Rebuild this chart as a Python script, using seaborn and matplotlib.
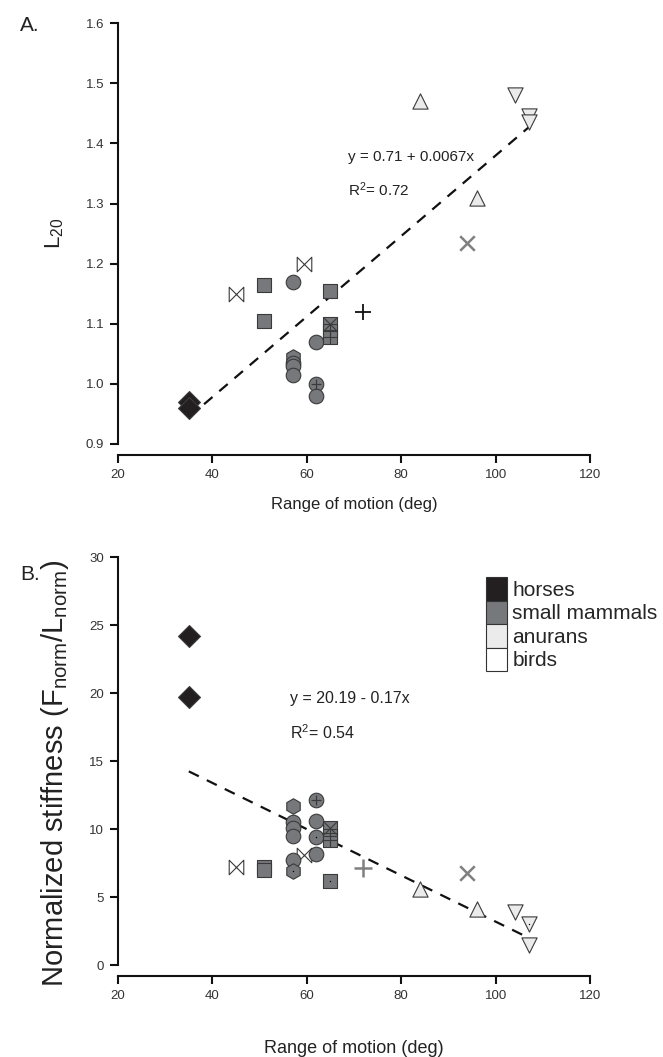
import numpy as np
import pandas as pd
import matplotlib
matplotlib.use("Agg")
import matplotlib.pyplot as plt
from matplotlib.path import Path
from matplotlib.patches import Patch
import seaborn as sns

sns.set_style("ticks")
plt.rcParams['font.family'] = ['Liberation Sans', 'DejaVu Sans']
plt.rcParams['mathtext.default'] = 'regular'

# colours of the four groups
HORSE = '#231f20'
MAMMAL = '#77787b'
ANURAN = '#ebebeb'
BIRD = '#ffffff'
EDGE = '#3a3a3a'

# panel A: range of motion vs L20
rom_a = [35, 35, 45, 59.5, 51, 51, 57, 57, 57, 57, 57, 62, 62, 62,
         65, 65, 65, 65, 72, 94, 84, 96, 104, 107, 107]
l20 = [0.97, 0.96, 1.15, 1.20, 1.165, 1.105, 1.17, 1.045, 1.035, 1.03, 1.015,
       1.07, 1.00, 0.98, 1.155, 1.10, 1.088, 1.078, 1.12, 1.235, 1.47, 1.31,
       1.48, 1.445, 1.435]
kind_a = ['horse', 'horse', 'bowtie', 'bowtie', 'square', 'square', 'circle',
          'hexagon', 'circle', 'circle', 'circle', 'circle', 'circle_plus',
          'circle', 'square', 'square_x', 'square_grid', 'square_grid',
          'plus', 'cross', 'tri_up', 'tri_up', 'tri_down', 'tri_down', 'tri_down']

# panel B: range of motion vs normalized stiffness
rom_b = [35, 35, 45, 59.5, 51, 51, 57, 57, 57, 57, 57, 57, 62, 62, 62, 62,
         65, 65, 65, 65, 72, 94, 84, 96, 104, 107, 107]
stiff = [24.2, 19.7, 7.2, 8.1, 7.2, 7.0, 11.7, 10.5, 10.1, 9.5, 7.7, 6.9,
         12.1, 10.6, 9.4, 8.2, 10.1, 9.5, 9.2, 6.2, 7.1, 6.8, 5.6, 4.1,
         3.9, 3.0, 1.5]
kind_b = ['horse', 'horse', 'bowtie', 'bowtie', 'square', 'square', 'hexagon',
          'circle', 'circle', 'circle', 'circle', 'hexagon_dot', 'circle_plus',
          'circle', 'circle_dot', 'circle', 'square_x', 'square_grid',
          'square_grid', 'square_dot', 'plus_gray', 'cross', 'tri_up', 'tri_up',
          'tri_down', 'tri_down_dot', 'tri_down']

# regression lines (intercept, slope) and R^2
fit_a = (0.71, 0.0067, 0.72)
fit_b = (20.19, -0.17, 0.54)

legend_labels = ['horses', 'small mammals', 'anurans', 'birds']
legend_colors = [HORSE, MAMMAL, ANURAN, BIRD]

bowtie = Path([(-1, 1), (-1, -1), (1, 1), (1, -1), (-1, 1)],
              [Path.MOVETO, Path.LINETO, Path.LINETO, Path.LINETO, Path.CLOSEPOLY])

base = {
    'horse': dict(marker='D', color=HORSE, s=125),
    'bowtie': dict(marker=bowtie, color='white', s=110),
    'square': dict(marker='s', color=MAMMAL, s=105),
    'circle': dict(marker='o', color=MAMMAL, s=110),
    'hexagon': dict(marker='h', color=MAMMAL, s=125),
    'tri_up': dict(marker='^', color=ANURAN, s=120),
    'tri_down': dict(marker='v', color=ANURAN, s=120),
}
overlay = {
    'x': dict(marker='x', color=EDGE, s=80, linewidth=0.8),
    'grid': dict(marker='+', color=EDGE, s=100, linewidth=0.8),
    'plus': dict(marker='+', color=EDGE, s=45, linewidth=0.9),
    'dot': dict(marker='.', color='black', s=4, linewidth=0),
}


def draw_points(ax, xs, ys, kinds):
    df = pd.DataFrame({'x': xs, 'y': ys, 'kind': kinds})
    for i, row in df.iterrows():
        k = row['kind']
        sub = df.loc[[i]]
        if k == 'plus':
            sns.scatterplot(data=sub, x='x', y='y', marker='+', color='#111111',
                            s=130, linewidth=1.3, ax=ax, zorder=3)
            continue
        if k == 'plus_gray':
            sns.scatterplot(data=sub, x='x', y='y', marker='+', color='#808080',
                            s=150, linewidth=1.8, ax=ax, zorder=3)
            continue
        if k == 'cross':
            sns.scatterplot(data=sub, x='x', y='y', marker='x', color='#808080',
                            s=110, linewidth=1.8, ax=ax, zorder=3)
            continue
        if k.startswith('tri'):
            name = k.replace('_dot', '')
            extra = 'dot' if k.endswith('_dot') else ''
        else:
            name, _, extra = k.partition('_')
        st = base[name]
        sns.scatterplot(data=sub, x='x', y='y', marker=st['marker'],
                        color=st['color'], s=st['s'], edgecolor=EDGE,
                        linewidth=0.8, ax=ax, zorder=3)
        if extra:
            ov = overlay[extra]
            sns.scatterplot(data=sub, x='x', y='y', marker=ov['marker'],
                            color=ov['color'], s=ov['s'],
                            linewidth=ov['linewidth'], ax=ax, zorder=4)


def draw_fit(ax, xs, fit):
    xf = np.array([min(xs), max(xs)])
    sns.lineplot(x=xf, y=fit[0] + fit[1] * xf, ax=ax, color='#111111',
                 linewidth=1.6, linestyle=(0, (5, 4)), zorder=2)


def style_axis(ax):
    ax.spines['top'].set_visible(False)
    ax.spines['right'].set_visible(False)
    ax.spines['bottom'].set_position(('outward', 8))
    for sp in ['left', 'bottom']:
        ax.spines[sp].set_linewidth(1.5)
        ax.spines[sp].set_color('#111111')
    ax.tick_params(direction='out', length=6, width=1.5, color='#111111',
                   labelsize=9.5, labelcolor='#333333', pad=4)
    ax.set_xlim(20, 120)
    ax.set_xticks(range(20, 121, 20))


fig = plt.figure(figsize=(6.63, 10.57), dpi=100)
ax1 = fig.add_axes([0.178, 0.58, 0.712, 0.398])
ax2 = fig.add_axes([0.178, 0.087, 0.712, 0.386])

# panel A
draw_fit(ax1, rom_a, fit_a)
draw_points(ax1, rom_a, l20, kind_a)
style_axis(ax1)
ax1.set_ylim(0.9, 1.6)
ax1.set_yticks(np.arange(0.9, 1.61, 0.1))
ax1.set_yticklabels([f'{v:.1f}' for v in np.arange(0.9, 1.61, 0.1)])
ax1.set_xlabel('Range of motion (deg)', fontsize=12, color='#222222')
ax1.set_ylabel('L$_{20}$', fontsize=16, color='#222222')
ax1.xaxis.set_label_coords(0.5, -0.126)
ax1.yaxis.set_label_coords(-0.11, 0.5)
ax1.text(68.7, 1.378, f'y = {fit_a[0]:.2f} + {fit_a[1]:.4f}x', fontsize=11,
         va='center', color='#222222')
ax1.text(68.7, 1.323, f'R$^2$= {fit_a[2]:.2f}', fontsize=11, va='center',
         color='#222222')
fig.text(0.03, 0.985, 'A.', fontsize=15, va='top', color='#222222')

# panel B
draw_fit(ax2, rom_b, fit_b)
draw_points(ax2, rom_b, stiff, kind_b)
style_axis(ax2)
ax2.set_ylim(0, 30)
ax2.set_yticks(range(0, 31, 5))
ax2.set_xlabel('Range of motion (deg)', fontsize=13, color='#222222')
ax2.set_ylabel('Normalized stiffness (F$_{norm}$/L$_{norm}$)', fontsize=21,
               color='#222222')
ax2.xaxis.set_label_coords(0.5, -0.184)
ax2.yaxis.set_label_coords(-0.10, 0.47)
ax2.text(56.4, 19.6, f'y = {fit_b[0]:.2f} - {abs(fit_b[1]):.2f}x', fontsize=11.5,
         va='center', color='#222222')
ax2.text(56.4, 17.1, f'R$^2$= {fit_b[2]:.2f}', fontsize=11.5, va='center',
         color='#222222')
fig.text(0.03, 0.465, 'B.', fontsize=15, va='top', color='#222222')

handles = [Patch(facecolor=c, edgecolor='#333333', linewidth=0.8)
           for c in legend_colors]
ax2.legend(handles, legend_labels, loc='upper left', bbox_to_anchor=(0.78, 0.95),
           frameon=False, fontsize=15, handlelength=1.0, handleheight=1.35,
           labelspacing=0, handletextpad=0.25, borderpad=0, borderaxespad=0)

fig.savefig('out.png', dpi=100)
